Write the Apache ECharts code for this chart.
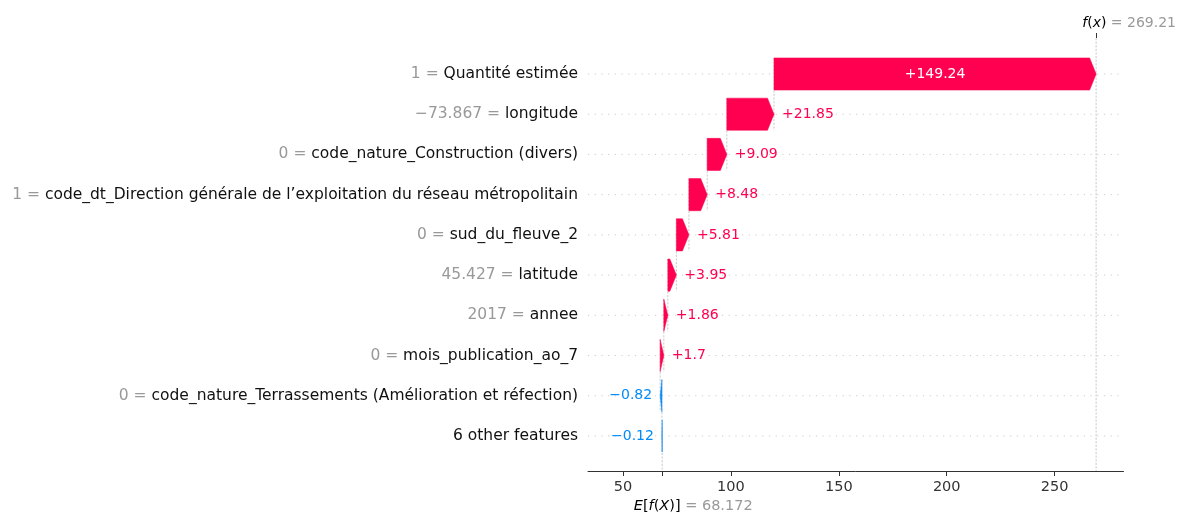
<!DOCTYPE html>
<html><head><meta charset="utf-8">
<script src="https://cdn.jsdelivr.net/npm/echarts@6/dist/echarts.min.js"></script>
<style>html,body{margin:0;padding:0;background:#fff}#c{width:1179px;height:514px}</style>
</head><body><div id="c"></div>
<script>
// ---- data ----
const featureValues = ['1', '\u221273.867', '0', '1', '0', '45.427', '2017', '0', '0', ''];
const featureNames = [
  'Quantité estimée',
  'longitude',
  'code_nature_Construction (divers)',
  'code_dt_Direction générale de l\u2019exploitation du réseau métropolitain',
  'sud_du_fleuve_2',
  'latitude',
  'annee',
  'mois_publication_ao_7',
  'code_nature_Terrassements (Amélioration et réfection)',
  '6 other features'
];
const shapValues = [149.24, 21.85, 9.09, 8.48, 5.81, 3.95, 1.86, 1.7, -0.82, -0.12];
const baseValue = 68.172;
const fxValue = 269.21;
const xTickValues = [50, 100, 150, 200, 250];

// ---- build waterfall (bottom row starts at base value) ----
const n = shapValues.length;
const starts = new Array(n), ends = new Array(n);
let acc = baseValue;
for (let i = n - 1; i >= 0; i--) {
  starts[i] = acc;
  acc += shapValues[i];
  ends[i] = acc;
}
const barData = shapValues.map((v, i) => [starts[i], ends[i], i, v]);

const POS = '#ff0051', NEG = '#008bfb';
const FONT = 'DejaVu Sans';
const X_MIN = 33.8, X_MAX = 281.9;
const Y_MIN = -0.895, Y_MAX = 9.871;

function fmtShap(v) {
  return (v > 0 ? '+' : '\u2212') + String(Math.abs(v));
}

const chart = echarts.init(document.getElementById('c'), null, {renderer: 'canvas'});

const option = {
  animation: false,
  backgroundColor: '#fff',
  grid: {left: 588, right: 54, top: 38, bottom: 43, containLabel: false},
  xAxis: [
    {
      type: 'value', min: X_MIN, max: X_MAX, position: 'bottom',
      axisLine: {show: true, onZero: false, lineStyle: {color: '#333', width: 1}},
      axisTick: {show: true, length: 5, lineStyle: {color: '#333', width: 1},
                 customValues: xTickValues.concat([baseValue])},
      axisLabel: {show: true, customValues: xTickValues, margin: 9,
                  fontFamily: FONT, fontSize: 14.5, color: '#333'},
      splitLine: {show: false}
    },
    {
      type: 'value', min: X_MIN, max: X_MAX, position: 'top',
      axisLine: {show: false, onZero: false},
      axisTick: {show: true, length: 5, lineStyle: {color: '#333', width: 1},
                 customValues: [fxValue]},
      axisLabel: {
        show: true, customValues: [fxValue], margin: 8,
        formatter: () => '{sp| }{i|f}{n|(}{i|x}{n|)}{g| = ' + fxValue.toFixed(2) + '}',
        rich: {
          sp: {width: 66, fontSize: 14},
          i: {fontFamily: FONT, fontStyle: 'italic', fontSize: 14, color: '#000'},
          n: {fontFamily: FONT, fontSize: 14, color: '#000'},
          g: {fontFamily: FONT, fontSize: 14, color: '#999'}
        }
      },
      splitLine: {show: false}
    },
    {
      type: 'value', min: X_MIN, max: X_MAX, position: 'bottom', offset: 0,
      axisLine: {show: false, onZero: false},
      axisTick: {show: false},
      axisLabel: {
        show: true, customValues: [baseValue], margin: 28,
        formatter: () => '{sp| }{i|E}{n|[}{i|f}{n|(}{i|X}{n|)]}{g| = ' + baseValue + '}',
        rich: {
          sp: {width: 62, fontSize: 14.5},
          i: {fontFamily: FONT, fontStyle: 'italic', fontSize: 14.5, color: '#000'},
          n: {fontFamily: FONT, fontSize: 14.5, color: '#000'},
          g: {fontFamily: FONT, fontSize: 14.5, color: '#999'}
        }
      },
      splitLine: {show: false}
    }
  ],
  yAxis: {
    type: 'value', inverse: true, min: Y_MIN, max: Y_MAX,
    axisLine: {show: false, onZero: false}, axisTick: {show: false}, splitLine: {show: false},
    axisLabel: {
      show: true, margin: 10,
      customValues: featureNames.map((_, i) => i),
      formatter: (v) => {
        const i = Math.round(v);
        const fv = featureValues[i];
        return (fv ? '{g|' + fv + ' = }' : '') + '{b|' + featureNames[i] + '}';
      },
      rich: {
        g: {fontFamily: FONT, fontSize: 15.5, color: '#999'},
        b: {fontFamily: FONT, fontSize: 15.5, color: '#111'}
      }
    }
  },
  series: [
    {
      // guides: dotted row lines + connecting dashed lines
      type: 'custom', name: 'guides', z: 1, silent: true,
      data: barData,
      encode: {x: [0, 1], y: 2},
      renderItem: (params, api) => {
        const cs = params.coordSys;
        const i = api.value(2);
        const e = api.value(1);
        const pc = api.coord([e, i]);
        const children = [{
          type: 'line',
          shape: {x1: cs.x, y1: pc[1], x2: cs.x + cs.width - 3, y2: pc[1]},
          style: {stroke: '#cccccc', lineWidth: 1, lineDash: [1.2, 5.5]}
        }];
        if (i > 0) {
          const pTop = api.coord([e, i - 1 - 0.4]);
          const pBot = api.coord([e, i + 0.4]);
          children.push({
            type: 'line',
            shape: {x1: pc[0], y1: pTop[1], x2: pc[0], y2: pBot[1]},
            style: {stroke: '#bbbbbb', lineWidth: 0.8, lineDash: [2.2, 1.4]}
          });
        }
        return {type: 'group', children};
      }
    },
    {
      // f(x) and E[f(X)] reference lines
      type: 'custom', name: 'refs', z: 1, silent: true,
      data: [[fxValue, 0], [baseValue, 1]],
      encode: {x: 0},
      renderItem: (params, api) => {
        const cs = params.coordSys;
        const v = api.value(0);
        const p = api.coord([v, 0]);
        const full = api.value(1) === 0;
        const y1 = full ? cs.y : cs.y + cs.height * (1 - 1 / n);
        return {
          type: 'line',
          shape: {x1: p[0], y1: y1, x2: p[0], y2: cs.y + cs.height},
          style: {stroke: '#bbbbbb', lineWidth: 0.8, lineDash: [2.2, 1.4]}
        };
      }
    },
    {
      type: 'custom', name: 'bars', z: 3,
      data: barData,
      encode: {x: [0, 1], y: 2},
      renderItem: (params, api) => {
        const s = api.value(0), e = api.value(1), i = api.value(2), v = api.value(3);
        const p0 = api.coord([s, i]);
        const p1 = api.coord([e, i]);
        const h = Math.abs(api.size([0, 0.8])[1]);
        const dir = e >= s ? 1 : -1;
        const w = Math.abs(p1[0] - p0[0]);
        const hl = Math.min(w, 6.5);
        const yc = p0[1], top = yc - h / 2, bot = yc + h / 2;
        const x0 = p0[0], x1 = p1[0];
        const color = v >= 0 ? POS : NEG;
        const pts = [[x0, top], [x1 - dir * hl, top], [x1, yc], [x1 - dir * hl, bot], [x0, bot]];
        const children = [{
          type: 'polygon', shape: {points: pts},
          style: {fill: color, stroke: color, lineWidth: 0.5}
        }];
        const txt = fmtShap(v);
        if (w > 90) {
          children.push({
            type: 'text',
            style: {text: txt, x: (x0 + x1) / 2, y: yc, align: 'center', verticalAlign: 'middle',
                    fill: '#fff', font: '14px "DejaVu Sans"'}
          });
        } else {
          children.push({
            type: 'text',
            style: {text: txt, x: x1 + dir * 8, y: yc, align: dir > 0 ? 'left' : 'right',
                    verticalAlign: 'middle', fill: color, font: '14px "DejaVu Sans"'}
          });
        }
        return {type: 'group', children};
      }
    }
  ]
};
chart.setOption(option);
</script>
</body></html>
